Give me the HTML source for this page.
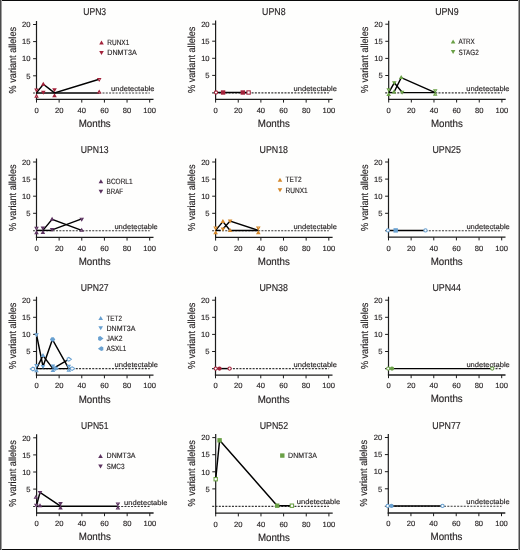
<!DOCTYPE html>
<html><head><meta charset="utf-8"><title>Figure</title>
<style>
html,body{margin:0;padding:0;background:#fefefd;}
body{width:520px;height:550px;overflow:hidden;position:relative;}
svg{display:block;position:absolute;left:0;top:0;will-change:transform;}
text{font-family:"Liberation Sans",sans-serif;text-rendering:geometricPrecision;stroke:#231f20;stroke-width:0.15px;}
</style></head><body>
<svg width="520" height="550" viewBox="0 0 520 550" font-family="Liberation Sans, sans-serif">
<defs><filter id="b" x="-2%" y="-2%" width="104%" height="104%" color-interpolation-filters="sRGB"><feGaussianBlur stdDeviation="0.35"/></filter></defs>
<rect x="0" y="0" width="520" height="550" fill="#fefefd"/>
<g filter="url(#b)">
<line x1="36.5" y1="21" x2="36.5" y2="100" stroke="#1c1c1c" stroke-width="1.2"/>
<line x1="35.9" y1="99.4" x2="153.5" y2="99.4" stroke="#1c1c1c" stroke-width="1.3"/>
<line x1="33.1" y1="75.8" x2="36.5" y2="75.8" stroke="#1c1c1c" stroke-width="1"/>
<text x="30.5" y="78.5" font-size="7.6" text-anchor="end" fill="#231f20">5</text>
<line x1="33.1" y1="58.7" x2="36.5" y2="58.7" stroke="#1c1c1c" stroke-width="1"/>
<text x="30.5" y="61.4" font-size="7.6" text-anchor="end" fill="#231f20">10</text>
<line x1="33.1" y1="41.6" x2="36.5" y2="41.6" stroke="#1c1c1c" stroke-width="1"/>
<text x="30.5" y="44.3" font-size="7.6" text-anchor="end" fill="#231f20">15</text>
<line x1="33.1" y1="24.5" x2="36.5" y2="24.5" stroke="#1c1c1c" stroke-width="1"/>
<text x="30.5" y="27.2" font-size="7.6" text-anchor="end" fill="#231f20">20</text>
<line x1="36.5" y1="99.4" x2="36.5" y2="102.6" stroke="#1c1c1c" stroke-width="1"/>
<text x="36.5" y="112.7" font-size="7.6" text-anchor="middle" fill="#231f20">0</text>
<line x1="59.14" y1="99.4" x2="59.14" y2="102.6" stroke="#1c1c1c" stroke-width="1"/>
<text x="59.14" y="112.7" font-size="7.6" text-anchor="middle" fill="#231f20">20</text>
<line x1="81.78" y1="99.4" x2="81.78" y2="102.6" stroke="#1c1c1c" stroke-width="1"/>
<text x="81.78" y="112.7" font-size="7.6" text-anchor="middle" fill="#231f20">40</text>
<line x1="104.42" y1="99.4" x2="104.42" y2="102.6" stroke="#1c1c1c" stroke-width="1"/>
<text x="104.42" y="112.7" font-size="7.6" text-anchor="middle" fill="#231f20">60</text>
<line x1="127.06" y1="99.4" x2="127.06" y2="102.6" stroke="#1c1c1c" stroke-width="1"/>
<text x="127.06" y="112.7" font-size="7.6" text-anchor="middle" fill="#231f20">80</text>
<line x1="149.7" y1="99.4" x2="149.7" y2="102.6" stroke="#1c1c1c" stroke-width="1"/>
<text x="149.7" y="112.7" font-size="7.6" text-anchor="middle" fill="#231f20">100</text>
<text x="94.7" y="15" font-size="10" text-anchor="middle" fill="#231f20" textLength="22.9" lengthAdjust="spacingAndGlyphs">UPN3</text>
<text x="94.7" y="126.8" font-size="10.4" text-anchor="middle" fill="#231f20" textLength="32" lengthAdjust="spacingAndGlyphs">Months</text>
<text x="15.7" y="60.2" font-size="10.2" text-anchor="middle" fill="#231f20" textLength="66.4" lengthAdjust="spacingAndGlyphs" transform="rotate(-90 15.7 60.2)">% variant alleles</text>
<text x="111.1" y="91.2" font-size="7" fill="#231f20" textLength="43.4" lengthAdjust="spacingAndGlyphs">undetectable</text>
<line x1="33" y1="93" x2="36.5" y2="93" stroke="#383838" stroke-width="1.15" stroke-dasharray="2 1.29"/>
<line x1="99.2" y1="93" x2="149.7" y2="93" stroke="#383838" stroke-width="1.15" stroke-dasharray="2 1.29"/>
<polyline points="36.5,92.9 43.3,84.2 54.5,92.9 99.2,79.2" fill="none" stroke="#000" stroke-width="1.45" stroke-linejoin="miter"/>
<polyline points="36.5,92.9 99.2,92.9" fill="none" stroke="#000" stroke-width="1.45" stroke-linejoin="miter"/>
<polygon points="35.09,88.99 37.91,88.99 36.5,91.41" fill="#fff" stroke="#a3223a" stroke-width="1.05"/>
<polygon points="35.09,97.31 37.91,97.31 36.5,94.89" fill="#fff" stroke="#a3223a" stroke-width="1.05"/>
<polygon points="41,85.7 45.6,85.7 43.3,81.7" fill="#a3223a"/>
<polygon points="41,90.7 45.6,90.7 43.3,94.7" fill="#a3223a"/>
<polygon points="52.2,88.2 56.8,88.2 54.5,92.2" fill="#a3223a"/>
<polygon points="52.2,97.2 56.8,97.2 54.5,93.2" fill="#a3223a"/>
<polygon points="97.79,78.49 100.61,78.49 99.2,80.91" fill="#fff" stroke="#a3223a" stroke-width="1.05"/>
<polygon points="97.79,93.01 100.61,93.01 99.2,90.59" fill="#fff" stroke="#a3223a" stroke-width="1.05"/>
<polygon points="99.2,44.5 103.8,44.5 101.5,40.5" fill="#a3223a"/>
<text x="107.3" y="44.95" font-size="7.7" fill="#231f20" textLength="22" lengthAdjust="spacingAndGlyphs">RUNX1</text>
<polygon points="99.2,51 103.8,51 101.5,55" fill="#a3223a"/>
<text x="107.3" y="55.45" font-size="7.7" fill="#231f20" textLength="29.4" lengthAdjust="spacingAndGlyphs">DNMT3A</text>
<line x1="215.6" y1="20.6" x2="215.6" y2="100" stroke="#1c1c1c" stroke-width="1.2"/>
<line x1="215" y1="99.4" x2="332.6" y2="99.4" stroke="#1c1c1c" stroke-width="1.3"/>
<line x1="212.2" y1="75.4" x2="215.6" y2="75.4" stroke="#1c1c1c" stroke-width="1"/>
<text x="209.6" y="78.1" font-size="7.6" text-anchor="end" fill="#231f20">5</text>
<line x1="212.2" y1="58.3" x2="215.6" y2="58.3" stroke="#1c1c1c" stroke-width="1"/>
<text x="209.6" y="61" font-size="7.6" text-anchor="end" fill="#231f20">10</text>
<line x1="212.2" y1="41.2" x2="215.6" y2="41.2" stroke="#1c1c1c" stroke-width="1"/>
<text x="209.6" y="43.9" font-size="7.6" text-anchor="end" fill="#231f20">15</text>
<line x1="212.2" y1="24.1" x2="215.6" y2="24.1" stroke="#1c1c1c" stroke-width="1"/>
<text x="209.6" y="26.8" font-size="7.6" text-anchor="end" fill="#231f20">20</text>
<line x1="215.6" y1="99.4" x2="215.6" y2="102.6" stroke="#1c1c1c" stroke-width="1"/>
<text x="215.6" y="112.7" font-size="7.6" text-anchor="middle" fill="#231f20">0</text>
<line x1="238.24" y1="99.4" x2="238.24" y2="102.6" stroke="#1c1c1c" stroke-width="1"/>
<text x="238.24" y="112.7" font-size="7.6" text-anchor="middle" fill="#231f20">20</text>
<line x1="260.88" y1="99.4" x2="260.88" y2="102.6" stroke="#1c1c1c" stroke-width="1"/>
<text x="260.88" y="112.7" font-size="7.6" text-anchor="middle" fill="#231f20">40</text>
<line x1="283.52" y1="99.4" x2="283.52" y2="102.6" stroke="#1c1c1c" stroke-width="1"/>
<text x="283.52" y="112.7" font-size="7.6" text-anchor="middle" fill="#231f20">60</text>
<line x1="306.16" y1="99.4" x2="306.16" y2="102.6" stroke="#1c1c1c" stroke-width="1"/>
<text x="306.16" y="112.7" font-size="7.6" text-anchor="middle" fill="#231f20">80</text>
<line x1="328.8" y1="99.4" x2="328.8" y2="102.6" stroke="#1c1c1c" stroke-width="1"/>
<text x="328.8" y="112.7" font-size="7.6" text-anchor="middle" fill="#231f20">100</text>
<text x="273.8" y="15" font-size="10" text-anchor="middle" fill="#231f20" textLength="23.5" lengthAdjust="spacingAndGlyphs">UPN8</text>
<text x="273.8" y="126.8" font-size="10.4" text-anchor="middle" fill="#231f20" textLength="32" lengthAdjust="spacingAndGlyphs">Months</text>
<text x="194.8" y="59.8" font-size="10.2" text-anchor="middle" fill="#231f20" textLength="66.4" lengthAdjust="spacingAndGlyphs" transform="rotate(-90 194.8 59.8)">% variant alleles</text>
<text x="293.5" y="90.8" font-size="7" fill="#231f20" textLength="43.4" lengthAdjust="spacingAndGlyphs">undetectable</text>
<line x1="212.1" y1="92.8" x2="328.8" y2="92.8" stroke="#383838" stroke-width="1.15" stroke-dasharray="2 1.29"/>
<polyline points="215.6,92.5 248.6,92.5" fill="none" stroke="#000" stroke-width="1.45" stroke-linejoin="miter"/>
<circle cx="216" cy="92.5" r="1.62" fill="#fff" stroke="#a3223a" stroke-width="1.05"/>
<rect x="220.9" y="90.3" width="4.4" height="4.4" fill="#a3223a"/>
<rect x="240.6" y="90.3" width="4.4" height="4.4" fill="#a3223a"/>
<rect x="246.92" y="90.83" width="3.35" height="3.35" fill="#fff" stroke="#a3223a" stroke-width="1.05"/>
<line x1="388.7" y1="20.7" x2="388.7" y2="99.9" stroke="#1c1c1c" stroke-width="1.2"/>
<line x1="388.1" y1="99.3" x2="505.7" y2="99.3" stroke="#1c1c1c" stroke-width="1.3"/>
<line x1="385.3" y1="75.5" x2="388.7" y2="75.5" stroke="#1c1c1c" stroke-width="1"/>
<text x="382.7" y="78.2" font-size="7.6" text-anchor="end" fill="#231f20">5</text>
<line x1="385.3" y1="58.4" x2="388.7" y2="58.4" stroke="#1c1c1c" stroke-width="1"/>
<text x="382.7" y="61.1" font-size="7.6" text-anchor="end" fill="#231f20">10</text>
<line x1="385.3" y1="41.3" x2="388.7" y2="41.3" stroke="#1c1c1c" stroke-width="1"/>
<text x="382.7" y="44" font-size="7.6" text-anchor="end" fill="#231f20">15</text>
<line x1="385.3" y1="24.2" x2="388.7" y2="24.2" stroke="#1c1c1c" stroke-width="1"/>
<text x="382.7" y="26.9" font-size="7.6" text-anchor="end" fill="#231f20">20</text>
<line x1="388.7" y1="99.3" x2="388.7" y2="102.5" stroke="#1c1c1c" stroke-width="1"/>
<text x="388.7" y="112.6" font-size="7.6" text-anchor="middle" fill="#231f20">0</text>
<line x1="411.34" y1="99.3" x2="411.34" y2="102.5" stroke="#1c1c1c" stroke-width="1"/>
<text x="411.34" y="112.6" font-size="7.6" text-anchor="middle" fill="#231f20">20</text>
<line x1="433.98" y1="99.3" x2="433.98" y2="102.5" stroke="#1c1c1c" stroke-width="1"/>
<text x="433.98" y="112.6" font-size="7.6" text-anchor="middle" fill="#231f20">40</text>
<line x1="456.62" y1="99.3" x2="456.62" y2="102.5" stroke="#1c1c1c" stroke-width="1"/>
<text x="456.62" y="112.6" font-size="7.6" text-anchor="middle" fill="#231f20">60</text>
<line x1="479.26" y1="99.3" x2="479.26" y2="102.5" stroke="#1c1c1c" stroke-width="1"/>
<text x="479.26" y="112.6" font-size="7.6" text-anchor="middle" fill="#231f20">80</text>
<line x1="501.9" y1="99.3" x2="501.9" y2="102.5" stroke="#1c1c1c" stroke-width="1"/>
<text x="501.9" y="112.6" font-size="7.6" text-anchor="middle" fill="#231f20">100</text>
<text x="446.9" y="15" font-size="10" text-anchor="middle" fill="#231f20" textLength="23.5" lengthAdjust="spacingAndGlyphs">UPN9</text>
<text x="446.9" y="126.7" font-size="10.4" text-anchor="middle" fill="#231f20" textLength="32" lengthAdjust="spacingAndGlyphs">Months</text>
<text x="367.9" y="59.9" font-size="10.2" text-anchor="middle" fill="#231f20" textLength="66.4" lengthAdjust="spacingAndGlyphs" transform="rotate(-90 367.9 59.9)">% variant alleles</text>
<text x="466.2" y="90.9" font-size="7" fill="#231f20" textLength="43.4" lengthAdjust="spacingAndGlyphs">undetectable</text>
<line x1="385.2" y1="92.9" x2="388.7" y2="92.9" stroke="#383838" stroke-width="1.15" stroke-dasharray="2 1.29"/>
<line x1="394" y1="92.9" x2="402.1" y2="92.9" stroke="#383838" stroke-width="1.15" stroke-dasharray="2 1.29"/>
<line x1="435.2" y1="92.9" x2="501.9" y2="92.9" stroke="#383838" stroke-width="1.15" stroke-dasharray="2 1.29"/>
<polyline points="388.7,92.6 394.3,82.8 402.1,92.3" fill="none" stroke="#000" stroke-width="1.45" stroke-linejoin="miter"/>
<polyline points="394,92.3 401.2,77.6 435.2,92.6" fill="none" stroke="#000" stroke-width="1.45" stroke-linejoin="miter"/>
<polyline points="388.7,92.6 394,92.6" fill="none" stroke="#000" stroke-width="1.45" stroke-linejoin="miter"/>
<polyline points="402.1,92.6 435.2,92.6" fill="none" stroke="#000" stroke-width="1.45" stroke-linejoin="miter"/>
<polygon points="387.29,88.89 390.11,88.89 388.7,91.31" fill="#fff" stroke="#6aa046" stroke-width="1.05"/>
<polygon points="387.29,95.51 390.11,95.51 388.7,93.09" fill="#fff" stroke="#6aa046" stroke-width="1.05"/>
<polygon points="392,81.3 396.6,81.3 394.3,85.3" fill="#6aa046"/>
<polygon points="391.7,93.5 396.3,93.5 394,89.5" fill="#6aa046"/>
<polygon points="398.9,79.1 403.5,79.1 401.2,75.1" fill="#6aa046"/>
<polygon points="399.8,90.8 404.4,90.8 402.1,94.8" fill="#6aa046"/>
<polygon points="433.79,89.69 436.61,89.69 435.2,92.11" fill="#fff" stroke="#6aa046" stroke-width="1.05"/>
<polygon points="433.79,95.31 436.61,95.31 435.2,92.89" fill="#fff" stroke="#6aa046" stroke-width="1.05"/>
<polygon points="450.8,43.55 455.4,43.55 453.1,39.55" fill="#6aa046"/>
<text x="458.5" y="44" font-size="7.7" fill="#231f20" textLength="16.3" lengthAdjust="spacingAndGlyphs">ATRX</text>
<polygon points="450.8,50.05 455.4,50.05 453.1,54.05" fill="#6aa046"/>
<text x="458.5" y="54.5" font-size="7.7" fill="#231f20" textLength="20.3" lengthAdjust="spacingAndGlyphs">STAG2</text>
<line x1="36.5" y1="158.5" x2="36.5" y2="238" stroke="#1c1c1c" stroke-width="1.2"/>
<line x1="35.9" y1="237.4" x2="153.5" y2="237.4" stroke="#1c1c1c" stroke-width="1.3"/>
<line x1="33.1" y1="213.3" x2="36.5" y2="213.3" stroke="#1c1c1c" stroke-width="1"/>
<text x="30.5" y="216" font-size="7.6" text-anchor="end" fill="#231f20">5</text>
<line x1="33.1" y1="196.2" x2="36.5" y2="196.2" stroke="#1c1c1c" stroke-width="1"/>
<text x="30.5" y="198.9" font-size="7.6" text-anchor="end" fill="#231f20">10</text>
<line x1="33.1" y1="179.1" x2="36.5" y2="179.1" stroke="#1c1c1c" stroke-width="1"/>
<text x="30.5" y="181.8" font-size="7.6" text-anchor="end" fill="#231f20">15</text>
<line x1="33.1" y1="162" x2="36.5" y2="162" stroke="#1c1c1c" stroke-width="1"/>
<text x="30.5" y="164.7" font-size="7.6" text-anchor="end" fill="#231f20">20</text>
<line x1="36.5" y1="237.4" x2="36.5" y2="240.6" stroke="#1c1c1c" stroke-width="1"/>
<text x="36.5" y="250.7" font-size="7.6" text-anchor="middle" fill="#231f20">0</text>
<line x1="59.14" y1="237.4" x2="59.14" y2="240.6" stroke="#1c1c1c" stroke-width="1"/>
<text x="59.14" y="250.7" font-size="7.6" text-anchor="middle" fill="#231f20">20</text>
<line x1="81.78" y1="237.4" x2="81.78" y2="240.6" stroke="#1c1c1c" stroke-width="1"/>
<text x="81.78" y="250.7" font-size="7.6" text-anchor="middle" fill="#231f20">40</text>
<line x1="104.42" y1="237.4" x2="104.42" y2="240.6" stroke="#1c1c1c" stroke-width="1"/>
<text x="104.42" y="250.7" font-size="7.6" text-anchor="middle" fill="#231f20">60</text>
<line x1="127.06" y1="237.4" x2="127.06" y2="240.6" stroke="#1c1c1c" stroke-width="1"/>
<text x="127.06" y="250.7" font-size="7.6" text-anchor="middle" fill="#231f20">80</text>
<line x1="149.7" y1="237.4" x2="149.7" y2="240.6" stroke="#1c1c1c" stroke-width="1"/>
<text x="149.7" y="250.7" font-size="7.6" text-anchor="middle" fill="#231f20">100</text>
<text x="94.7" y="152.9" font-size="10" text-anchor="middle" fill="#231f20" textLength="27.9" lengthAdjust="spacingAndGlyphs">UPN13</text>
<text x="94.7" y="264.8" font-size="10.4" text-anchor="middle" fill="#231f20" textLength="32" lengthAdjust="spacingAndGlyphs">Months</text>
<text x="15.7" y="197.7" font-size="10.2" text-anchor="middle" fill="#231f20" textLength="66.4" lengthAdjust="spacingAndGlyphs" transform="rotate(-90 15.7 197.7)">% variant alleles</text>
<text x="114.4" y="228.7" font-size="7" fill="#231f20" textLength="43.4" lengthAdjust="spacingAndGlyphs">undetectable</text>
<line x1="33" y1="230.7" x2="149.7" y2="230.7" stroke="#383838" stroke-width="1.15" stroke-dasharray="2 1.29"/>
<polyline points="36.5,230.4 52.1,230.4" fill="none" stroke="#000" stroke-width="1.45" stroke-linejoin="miter"/>
<polyline points="42.9,230.4 52.1,219.3 81.7,230.4" fill="none" stroke="#000" stroke-width="1.45" stroke-linejoin="miter"/>
<polyline points="52.1,229.9 81.7,218.9" fill="none" stroke="#000" stroke-width="1.45" stroke-linejoin="miter"/>
<polygon points="35.09,227.29 37.91,227.29 36.5,229.71" fill="#fff" stroke="#5c3360" stroke-width="1.05"/>
<polygon points="35.09,233.61 37.91,233.61 36.5,231.19" fill="#fff" stroke="#5c3360" stroke-width="1.05"/>
<polygon points="40.6,226.6 45.2,226.6 42.9,230.6" fill="#5c3360"/>
<polygon points="40.6,233.9 45.2,233.9 42.9,229.9" fill="#5c3360"/>
<polygon points="49.8,220.8 54.4,220.8 52.1,216.8" fill="#5c3360"/>
<polygon points="49.8,227.9 54.4,227.9 52.1,231.9" fill="#5c3360"/>
<polygon points="80.29,218.19 83.11,218.19 81.7,220.61" fill="#fff" stroke="#5c3360" stroke-width="1.05"/>
<polygon points="80.29,231.11 83.11,231.11 81.7,228.69" fill="#fff" stroke="#5c3360" stroke-width="1.05"/>
<polygon points="98.6,183.25 103.2,183.25 100.9,179.25" fill="#5c3360"/>
<text x="106.6" y="183.7" font-size="7.7" fill="#231f20" textLength="26" lengthAdjust="spacingAndGlyphs">BCORL1</text>
<polygon points="98.6,189.75 103.2,189.75 100.9,193.75" fill="#5c3360"/>
<text x="106.6" y="194.2" font-size="7.7" fill="#231f20" textLength="16.4" lengthAdjust="spacingAndGlyphs">BRAF</text>
<line x1="215.6" y1="158.5" x2="215.6" y2="238" stroke="#1c1c1c" stroke-width="1.2"/>
<line x1="215" y1="237.4" x2="332.6" y2="237.4" stroke="#1c1c1c" stroke-width="1.3"/>
<line x1="212.2" y1="213.3" x2="215.6" y2="213.3" stroke="#1c1c1c" stroke-width="1"/>
<text x="209.6" y="216" font-size="7.6" text-anchor="end" fill="#231f20">5</text>
<line x1="212.2" y1="196.2" x2="215.6" y2="196.2" stroke="#1c1c1c" stroke-width="1"/>
<text x="209.6" y="198.9" font-size="7.6" text-anchor="end" fill="#231f20">10</text>
<line x1="212.2" y1="179.1" x2="215.6" y2="179.1" stroke="#1c1c1c" stroke-width="1"/>
<text x="209.6" y="181.8" font-size="7.6" text-anchor="end" fill="#231f20">15</text>
<line x1="212.2" y1="162" x2="215.6" y2="162" stroke="#1c1c1c" stroke-width="1"/>
<text x="209.6" y="164.7" font-size="7.6" text-anchor="end" fill="#231f20">20</text>
<line x1="215.6" y1="237.4" x2="215.6" y2="240.6" stroke="#1c1c1c" stroke-width="1"/>
<text x="215.6" y="250.7" font-size="7.6" text-anchor="middle" fill="#231f20">0</text>
<line x1="238.24" y1="237.4" x2="238.24" y2="240.6" stroke="#1c1c1c" stroke-width="1"/>
<text x="238.24" y="250.7" font-size="7.6" text-anchor="middle" fill="#231f20">20</text>
<line x1="260.88" y1="237.4" x2="260.88" y2="240.6" stroke="#1c1c1c" stroke-width="1"/>
<text x="260.88" y="250.7" font-size="7.6" text-anchor="middle" fill="#231f20">40</text>
<line x1="283.52" y1="237.4" x2="283.52" y2="240.6" stroke="#1c1c1c" stroke-width="1"/>
<text x="283.52" y="250.7" font-size="7.6" text-anchor="middle" fill="#231f20">60</text>
<line x1="306.16" y1="237.4" x2="306.16" y2="240.6" stroke="#1c1c1c" stroke-width="1"/>
<text x="306.16" y="250.7" font-size="7.6" text-anchor="middle" fill="#231f20">80</text>
<line x1="328.8" y1="237.4" x2="328.8" y2="240.6" stroke="#1c1c1c" stroke-width="1"/>
<text x="328.8" y="250.7" font-size="7.6" text-anchor="middle" fill="#231f20">100</text>
<text x="273.8" y="152.9" font-size="10" text-anchor="middle" fill="#231f20" textLength="28.5" lengthAdjust="spacingAndGlyphs">UPN18</text>
<text x="273.8" y="264.8" font-size="10.4" text-anchor="middle" fill="#231f20" textLength="32" lengthAdjust="spacingAndGlyphs">Months</text>
<text x="194.8" y="197.7" font-size="10.2" text-anchor="middle" fill="#231f20" textLength="66.4" lengthAdjust="spacingAndGlyphs" transform="rotate(-90 194.8 197.7)">% variant alleles</text>
<text x="293.5" y="228.7" font-size="7" fill="#231f20" textLength="43.4" lengthAdjust="spacingAndGlyphs">undetectable</text>
<line x1="212.1" y1="230.7" x2="328.8" y2="230.7" stroke="#383838" stroke-width="1.15" stroke-dasharray="2 1.29"/>
<polyline points="215.6,230.4 222.9,221.6 230.1,230.4 258.3,230.4" fill="none" stroke="#000" stroke-width="1.45" stroke-linejoin="miter"/>
<polyline points="222.9,229.1 230.1,221 258.3,230.4" fill="none" stroke="#000" stroke-width="1.45" stroke-linejoin="miter"/>
<polyline points="215.6,230.4 220.6,230.4" fill="none" stroke="#000" stroke-width="1.45" stroke-linejoin="miter"/>
<polygon points="214.19,226.99 217.01,226.99 215.6,229.41" fill="#fff" stroke="#d4872a" stroke-width="1.05"/>
<polygon points="214.19,233.61 217.01,233.61 215.6,231.19" fill="#fff" stroke="#d4872a" stroke-width="1.05"/>
<polygon points="220.6,223.1 225.2,223.1 222.9,219.1" fill="#d4872a"/>
<polygon points="220.6,227.6 225.2,227.6 222.9,231.6" fill="#d4872a"/>
<polygon points="227.8,219.5 232.4,219.5 230.1,223.5" fill="#d4872a"/>
<polygon points="227.8,231.9 232.4,231.9 230.1,227.9" fill="#d4872a"/>
<polygon points="256.89,226.99 259.71,226.99 258.3,229.41" fill="#fff" stroke="#d4872a" stroke-width="1.05"/>
<polygon points="256.89,233.61 259.71,233.61 258.3,231.19" fill="#fff" stroke="#d4872a" stroke-width="1.05"/>
<polygon points="277.7,181.85 282.3,181.85 280,177.85" fill="#d4872a"/>
<text x="285.6" y="182.3" font-size="7.7" fill="#231f20" textLength="15.9" lengthAdjust="spacingAndGlyphs">TET2</text>
<polygon points="277.7,188.35 282.3,188.35 280,192.35" fill="#d4872a"/>
<text x="285.6" y="192.8" font-size="7.7" fill="#231f20" textLength="22.1" lengthAdjust="spacingAndGlyphs">RUNX1</text>
<line x1="388.5" y1="158.5" x2="388.5" y2="237.8" stroke="#1c1c1c" stroke-width="1.2"/>
<line x1="387.9" y1="237.2" x2="505.5" y2="237.2" stroke="#1c1c1c" stroke-width="1.3"/>
<line x1="385.1" y1="213.3" x2="388.5" y2="213.3" stroke="#1c1c1c" stroke-width="1"/>
<text x="382.5" y="216" font-size="7.6" text-anchor="end" fill="#231f20">5</text>
<line x1="385.1" y1="196.2" x2="388.5" y2="196.2" stroke="#1c1c1c" stroke-width="1"/>
<text x="382.5" y="198.9" font-size="7.6" text-anchor="end" fill="#231f20">10</text>
<line x1="385.1" y1="179.1" x2="388.5" y2="179.1" stroke="#1c1c1c" stroke-width="1"/>
<text x="382.5" y="181.8" font-size="7.6" text-anchor="end" fill="#231f20">15</text>
<line x1="385.1" y1="162" x2="388.5" y2="162" stroke="#1c1c1c" stroke-width="1"/>
<text x="382.5" y="164.7" font-size="7.6" text-anchor="end" fill="#231f20">20</text>
<line x1="388.5" y1="237.2" x2="388.5" y2="240.4" stroke="#1c1c1c" stroke-width="1"/>
<text x="388.5" y="250.5" font-size="7.6" text-anchor="middle" fill="#231f20">0</text>
<line x1="411.14" y1="237.2" x2="411.14" y2="240.4" stroke="#1c1c1c" stroke-width="1"/>
<text x="411.14" y="250.5" font-size="7.6" text-anchor="middle" fill="#231f20">20</text>
<line x1="433.78" y1="237.2" x2="433.78" y2="240.4" stroke="#1c1c1c" stroke-width="1"/>
<text x="433.78" y="250.5" font-size="7.6" text-anchor="middle" fill="#231f20">40</text>
<line x1="456.42" y1="237.2" x2="456.42" y2="240.4" stroke="#1c1c1c" stroke-width="1"/>
<text x="456.42" y="250.5" font-size="7.6" text-anchor="middle" fill="#231f20">60</text>
<line x1="479.06" y1="237.2" x2="479.06" y2="240.4" stroke="#1c1c1c" stroke-width="1"/>
<text x="479.06" y="250.5" font-size="7.6" text-anchor="middle" fill="#231f20">80</text>
<line x1="501.7" y1="237.2" x2="501.7" y2="240.4" stroke="#1c1c1c" stroke-width="1"/>
<text x="501.7" y="250.5" font-size="7.6" text-anchor="middle" fill="#231f20">100</text>
<text x="446.7" y="152.9" font-size="10" text-anchor="middle" fill="#231f20" textLength="28.5" lengthAdjust="spacingAndGlyphs">UPN25</text>
<text x="446.7" y="264.6" font-size="10.4" text-anchor="middle" fill="#231f20" textLength="32" lengthAdjust="spacingAndGlyphs">Months</text>
<text x="367.7" y="197.7" font-size="10.2" text-anchor="middle" fill="#231f20" textLength="66.4" lengthAdjust="spacingAndGlyphs" transform="rotate(-90 367.7 197.7)">% variant alleles</text>
<text x="466.4" y="228.7" font-size="7" fill="#231f20" textLength="43.4" lengthAdjust="spacingAndGlyphs">undetectable</text>
<line x1="385" y1="230.7" x2="388.5" y2="230.7" stroke="#383838" stroke-width="1.15" stroke-dasharray="2 1.29"/>
<line x1="425.5" y1="230.7" x2="501.7" y2="230.7" stroke="#383838" stroke-width="1.15" stroke-dasharray="2 1.29"/>
<polyline points="388.5,230.4 425.5,230.4" fill="none" stroke="#000" stroke-width="1.45" stroke-linejoin="miter"/>
<circle cx="387.9" cy="230.4" r="1.62" fill="#fff" stroke="#68a0d0" stroke-width="1.05"/>
<rect x="393.5" y="228.2" width="4.4" height="4.4" fill="#68a0d0"/>
<circle cx="425.5" cy="230.4" r="1.62" fill="#fff" stroke="#68a0d0" stroke-width="1.05"/>
<line x1="36.5" y1="296.7" x2="36.5" y2="375.7" stroke="#1c1c1c" stroke-width="1.2"/>
<line x1="35.9" y1="375.1" x2="153.5" y2="375.1" stroke="#1c1c1c" stroke-width="1.3"/>
<line x1="33.1" y1="351.5" x2="36.5" y2="351.5" stroke="#1c1c1c" stroke-width="1"/>
<text x="30.5" y="354.2" font-size="7.6" text-anchor="end" fill="#231f20">5</text>
<line x1="33.1" y1="334.4" x2="36.5" y2="334.4" stroke="#1c1c1c" stroke-width="1"/>
<text x="30.5" y="337.1" font-size="7.6" text-anchor="end" fill="#231f20">10</text>
<line x1="33.1" y1="317.3" x2="36.5" y2="317.3" stroke="#1c1c1c" stroke-width="1"/>
<text x="30.5" y="320" font-size="7.6" text-anchor="end" fill="#231f20">15</text>
<line x1="33.1" y1="300.2" x2="36.5" y2="300.2" stroke="#1c1c1c" stroke-width="1"/>
<text x="30.5" y="302.9" font-size="7.6" text-anchor="end" fill="#231f20">20</text>
<line x1="36.5" y1="375.1" x2="36.5" y2="378.3" stroke="#1c1c1c" stroke-width="1"/>
<text x="36.5" y="388.4" font-size="7.6" text-anchor="middle" fill="#231f20">0</text>
<line x1="59.14" y1="375.1" x2="59.14" y2="378.3" stroke="#1c1c1c" stroke-width="1"/>
<text x="59.14" y="388.4" font-size="7.6" text-anchor="middle" fill="#231f20">20</text>
<line x1="81.78" y1="375.1" x2="81.78" y2="378.3" stroke="#1c1c1c" stroke-width="1"/>
<text x="81.78" y="388.4" font-size="7.6" text-anchor="middle" fill="#231f20">40</text>
<line x1="104.42" y1="375.1" x2="104.42" y2="378.3" stroke="#1c1c1c" stroke-width="1"/>
<text x="104.42" y="388.4" font-size="7.6" text-anchor="middle" fill="#231f20">60</text>
<line x1="127.06" y1="375.1" x2="127.06" y2="378.3" stroke="#1c1c1c" stroke-width="1"/>
<text x="127.06" y="388.4" font-size="7.6" text-anchor="middle" fill="#231f20">80</text>
<line x1="149.7" y1="375.1" x2="149.7" y2="378.3" stroke="#1c1c1c" stroke-width="1"/>
<text x="149.7" y="388.4" font-size="7.6" text-anchor="middle" fill="#231f20">100</text>
<text x="94.7" y="290.9" font-size="10" text-anchor="middle" fill="#231f20" textLength="27.9" lengthAdjust="spacingAndGlyphs">UPN27</text>
<text x="94.7" y="402.5" font-size="10.4" text-anchor="middle" fill="#231f20" textLength="32" lengthAdjust="spacingAndGlyphs">Months</text>
<text x="15.7" y="335.9" font-size="10.2" text-anchor="middle" fill="#231f20" textLength="66.4" lengthAdjust="spacingAndGlyphs" transform="rotate(-90 15.7 335.9)">% variant alleles</text>
<text x="114.6" y="366.9" font-size="7" fill="#231f20" textLength="43.4" lengthAdjust="spacingAndGlyphs">undetectable</text>
<line x1="33" y1="368.6" x2="149.7" y2="368.6" stroke="#383838" stroke-width="1.15" stroke-dasharray="2 1.29"/>
<polyline points="36.5,334.6 43,366.5 52.4,339.5 68.8,368.6" fill="none" stroke="#000" stroke-width="1.45" stroke-linejoin="miter"/>
<polyline points="36.5,368.6 43,355.5 52.9,368.6" fill="none" stroke="#000" stroke-width="1.45" stroke-linejoin="miter"/>
<polyline points="52.9,368.6 69.1,359.2" fill="none" stroke="#000" stroke-width="1.45" stroke-linejoin="miter"/>
<polyline points="36.5,368.6 68.8,368.6" fill="none" stroke="#000" stroke-width="1.45" stroke-linejoin="miter"/>
<polygon points="35.09,333.89 37.91,333.89 36.5,336.31" fill="#fff" stroke="#68a0d0" stroke-width="1.05"/>
<polygon points="35.09,364.59 37.91,364.59 36.5,367.01" fill="#fff" stroke="#68a0d0" stroke-width="1.05"/>
<polygon points="35.09,371.71 37.91,371.71 36.5,369.29" fill="#fff" stroke="#68a0d0" stroke-width="1.05"/>
<polygon points="34.39,367.85 32.78,367.17 30.26,369 32.78,370.83 34.39,370.15" fill="#fff" stroke="#68a0d0" stroke-width="1.05"/>
<polygon points="40.7,357 45.3,357 43,353" fill="#68a0d0"/>
<polygon points="40.7,365 45.3,365 43,369" fill="#68a0d0"/>
<polygon points="49.9,339.4 51.5,337.2 53.7,337.2 55.3,339.4 53.7,341.6 51.5,341.6" fill="#68a0d0"/>
<polygon points="50.6,364.6 55.2,364.6 52.9,368.6" fill="#68a0d0"/>
<polygon points="50.6,372 55.2,372 52.9,368" fill="#68a0d0"/>
<polygon points="53.5,366.9 55.6,366 58.9,368.4 55.6,370.8 53.5,369.9" fill="#68a0d0"/>
<polygon points="67.21,358.15 68.82,357.47 71.34,359.3 68.82,361.13 67.21,360.45" fill="#fff" stroke="#68a0d0" stroke-width="1.05"/>
<polygon points="67.39,365.39 70.21,365.39 68.8,367.81" fill="#fff" stroke="#68a0d0" stroke-width="1.05"/>
<polygon points="67.39,371.31 70.21,371.31 68.8,368.89" fill="#fff" stroke="#68a0d0" stroke-width="1.05"/>
<polygon points="70.61,367.45 72.22,366.77 74.74,368.6 72.22,370.43 70.61,369.75" fill="#fff" stroke="#68a0d0" stroke-width="1.05"/>
<polygon points="98.4,320.1 103,320.1 100.7,316.1" fill="#68a0d0"/>
<text x="106.5" y="320.55" font-size="7.7" fill="#231f20" textLength="15.4" lengthAdjust="spacingAndGlyphs">TET2</text>
<polygon points="98.4,326.3 103,326.3 100.7,330.3" fill="#68a0d0"/>
<text x="106.5" y="330.75" font-size="7.7" fill="#231f20" textLength="29" lengthAdjust="spacingAndGlyphs">DNMT3A</text>
<polygon points="98.1,337 100.2,336.1 103.5,338.5 100.2,340.9 98.1,340" fill="#68a0d0"/>
<text x="106.5" y="340.95" font-size="7.7" fill="#231f20" textLength="16" lengthAdjust="spacingAndGlyphs">JAK2</text>
<polygon points="103.3,347.2 101.2,346.3 97.9,348.7 101.2,351.1 103.3,350.2" fill="#68a0d0"/>
<text x="106.5" y="351.15" font-size="7.7" fill="#231f20" textLength="19.8" lengthAdjust="spacingAndGlyphs">ASXL1</text>
<line x1="215.5" y1="296.7" x2="215.5" y2="375.7" stroke="#1c1c1c" stroke-width="1.2"/>
<line x1="214.9" y1="375.1" x2="332.5" y2="375.1" stroke="#1c1c1c" stroke-width="1.3"/>
<line x1="212.1" y1="351.5" x2="215.5" y2="351.5" stroke="#1c1c1c" stroke-width="1"/>
<text x="209.5" y="354.2" font-size="7.6" text-anchor="end" fill="#231f20">5</text>
<line x1="212.1" y1="334.4" x2="215.5" y2="334.4" stroke="#1c1c1c" stroke-width="1"/>
<text x="209.5" y="337.1" font-size="7.6" text-anchor="end" fill="#231f20">10</text>
<line x1="212.1" y1="317.3" x2="215.5" y2="317.3" stroke="#1c1c1c" stroke-width="1"/>
<text x="209.5" y="320" font-size="7.6" text-anchor="end" fill="#231f20">15</text>
<line x1="212.1" y1="300.2" x2="215.5" y2="300.2" stroke="#1c1c1c" stroke-width="1"/>
<text x="209.5" y="302.9" font-size="7.6" text-anchor="end" fill="#231f20">20</text>
<line x1="215.5" y1="375.1" x2="215.5" y2="378.3" stroke="#1c1c1c" stroke-width="1"/>
<text x="215.5" y="388.4" font-size="7.6" text-anchor="middle" fill="#231f20">0</text>
<line x1="238.14" y1="375.1" x2="238.14" y2="378.3" stroke="#1c1c1c" stroke-width="1"/>
<text x="238.14" y="388.4" font-size="7.6" text-anchor="middle" fill="#231f20">20</text>
<line x1="260.78" y1="375.1" x2="260.78" y2="378.3" stroke="#1c1c1c" stroke-width="1"/>
<text x="260.78" y="388.4" font-size="7.6" text-anchor="middle" fill="#231f20">40</text>
<line x1="283.42" y1="375.1" x2="283.42" y2="378.3" stroke="#1c1c1c" stroke-width="1"/>
<text x="283.42" y="388.4" font-size="7.6" text-anchor="middle" fill="#231f20">60</text>
<line x1="306.06" y1="375.1" x2="306.06" y2="378.3" stroke="#1c1c1c" stroke-width="1"/>
<text x="306.06" y="388.4" font-size="7.6" text-anchor="middle" fill="#231f20">80</text>
<line x1="328.7" y1="375.1" x2="328.7" y2="378.3" stroke="#1c1c1c" stroke-width="1"/>
<text x="328.7" y="388.4" font-size="7.6" text-anchor="middle" fill="#231f20">100</text>
<text x="273.7" y="290.9" font-size="10" text-anchor="middle" fill="#231f20" textLength="28.5" lengthAdjust="spacingAndGlyphs">UPN38</text>
<text x="273.7" y="402.5" font-size="10.4" text-anchor="middle" fill="#231f20" textLength="32" lengthAdjust="spacingAndGlyphs">Months</text>
<text x="194.7" y="335.9" font-size="10.2" text-anchor="middle" fill="#231f20" textLength="66.4" lengthAdjust="spacingAndGlyphs" transform="rotate(-90 194.7 335.9)">% variant alleles</text>
<text x="293.6" y="366.9" font-size="7" fill="#231f20" textLength="43.4" lengthAdjust="spacingAndGlyphs">undetectable</text>
<line x1="212" y1="368.6" x2="215.5" y2="368.6" stroke="#383838" stroke-width="1.15" stroke-dasharray="2 1.29"/>
<line x1="229.6" y1="368.6" x2="328.7" y2="368.6" stroke="#383838" stroke-width="1.15" stroke-dasharray="2 1.29"/>
<polyline points="215.5,368.6 229.6,368.6" fill="none" stroke="#000" stroke-width="1.45" stroke-linejoin="miter"/>
<circle cx="215.7" cy="368.6" r="1.62" fill="#fff" stroke="#a3223a" stroke-width="1.05"/>
<circle cx="219.5" cy="368.6" r="2.15" fill="#a3223a"/>
<circle cx="229.6" cy="368.6" r="1.62" fill="#fff" stroke="#a3223a" stroke-width="1.05"/>
<line x1="388.5" y1="296.7" x2="388.5" y2="375.6" stroke="#1c1c1c" stroke-width="1.2"/>
<line x1="387.9" y1="375" x2="505.5" y2="375" stroke="#1c1c1c" stroke-width="1.3"/>
<line x1="385.1" y1="351.5" x2="388.5" y2="351.5" stroke="#1c1c1c" stroke-width="1"/>
<text x="382.5" y="354.2" font-size="7.6" text-anchor="end" fill="#231f20">5</text>
<line x1="385.1" y1="334.4" x2="388.5" y2="334.4" stroke="#1c1c1c" stroke-width="1"/>
<text x="382.5" y="337.1" font-size="7.6" text-anchor="end" fill="#231f20">10</text>
<line x1="385.1" y1="317.3" x2="388.5" y2="317.3" stroke="#1c1c1c" stroke-width="1"/>
<text x="382.5" y="320" font-size="7.6" text-anchor="end" fill="#231f20">15</text>
<line x1="385.1" y1="300.2" x2="388.5" y2="300.2" stroke="#1c1c1c" stroke-width="1"/>
<text x="382.5" y="302.9" font-size="7.6" text-anchor="end" fill="#231f20">20</text>
<line x1="388.5" y1="375" x2="388.5" y2="378.2" stroke="#1c1c1c" stroke-width="1"/>
<text x="388.5" y="388.3" font-size="7.6" text-anchor="middle" fill="#231f20">0</text>
<line x1="411.14" y1="375" x2="411.14" y2="378.2" stroke="#1c1c1c" stroke-width="1"/>
<text x="411.14" y="388.3" font-size="7.6" text-anchor="middle" fill="#231f20">20</text>
<line x1="433.78" y1="375" x2="433.78" y2="378.2" stroke="#1c1c1c" stroke-width="1"/>
<text x="433.78" y="388.3" font-size="7.6" text-anchor="middle" fill="#231f20">40</text>
<line x1="456.42" y1="375" x2="456.42" y2="378.2" stroke="#1c1c1c" stroke-width="1"/>
<text x="456.42" y="388.3" font-size="7.6" text-anchor="middle" fill="#231f20">60</text>
<line x1="479.06" y1="375" x2="479.06" y2="378.2" stroke="#1c1c1c" stroke-width="1"/>
<text x="479.06" y="388.3" font-size="7.6" text-anchor="middle" fill="#231f20">80</text>
<line x1="501.7" y1="375" x2="501.7" y2="378.2" stroke="#1c1c1c" stroke-width="1"/>
<text x="501.7" y="388.3" font-size="7.6" text-anchor="middle" fill="#231f20">100</text>
<text x="446.7" y="290.9" font-size="10" text-anchor="middle" fill="#231f20" textLength="28.5" lengthAdjust="spacingAndGlyphs">UPN44</text>
<text x="446.7" y="402.4" font-size="10.4" text-anchor="middle" fill="#231f20" textLength="32" lengthAdjust="spacingAndGlyphs">Months</text>
<text x="367.7" y="335.9" font-size="10.2" text-anchor="middle" fill="#231f20" textLength="66.4" lengthAdjust="spacingAndGlyphs" transform="rotate(-90 367.7 335.9)">% variant alleles</text>
<text x="466.4" y="366.9" font-size="7" fill="#231f20" textLength="43.4" lengthAdjust="spacingAndGlyphs">undetectable</text>
<line x1="385" y1="368.6" x2="388.5" y2="368.6" stroke="#383838" stroke-width="1.15" stroke-dasharray="2 1.29"/>
<line x1="492.2" y1="368.6" x2="501.7" y2="368.6" stroke="#383838" stroke-width="1.15" stroke-dasharray="2 1.29"/>
<polyline points="388.5,368.6 492.2,368.6" fill="none" stroke="#000" stroke-width="1.45" stroke-linejoin="miter"/>
<circle cx="388.2" cy="368.6" r="1.62" fill="#fff" stroke="#6aa046" stroke-width="1.05"/>
<circle cx="392" cy="368.6" r="2.15" fill="#6aa046"/>
<circle cx="492.2" cy="368.6" r="1.62" fill="#fff" stroke="#6aa046" stroke-width="1.05"/>
<line x1="36.6" y1="434.3" x2="36.6" y2="513.6" stroke="#1c1c1c" stroke-width="1.2"/>
<line x1="36" y1="513" x2="153.6" y2="513" stroke="#1c1c1c" stroke-width="1.3"/>
<line x1="33.2" y1="489.1" x2="36.6" y2="489.1" stroke="#1c1c1c" stroke-width="1"/>
<text x="30.6" y="491.8" font-size="7.6" text-anchor="end" fill="#231f20">5</text>
<line x1="33.2" y1="472" x2="36.6" y2="472" stroke="#1c1c1c" stroke-width="1"/>
<text x="30.6" y="474.7" font-size="7.6" text-anchor="end" fill="#231f20">10</text>
<line x1="33.2" y1="454.9" x2="36.6" y2="454.9" stroke="#1c1c1c" stroke-width="1"/>
<text x="30.6" y="457.6" font-size="7.6" text-anchor="end" fill="#231f20">15</text>
<line x1="33.2" y1="437.8" x2="36.6" y2="437.8" stroke="#1c1c1c" stroke-width="1"/>
<text x="30.6" y="440.5" font-size="7.6" text-anchor="end" fill="#231f20">20</text>
<line x1="36.6" y1="513" x2="36.6" y2="516.2" stroke="#1c1c1c" stroke-width="1"/>
<text x="36.6" y="526.3" font-size="7.6" text-anchor="middle" fill="#231f20">0</text>
<line x1="59.24" y1="513" x2="59.24" y2="516.2" stroke="#1c1c1c" stroke-width="1"/>
<text x="59.24" y="526.3" font-size="7.6" text-anchor="middle" fill="#231f20">20</text>
<line x1="81.88" y1="513" x2="81.88" y2="516.2" stroke="#1c1c1c" stroke-width="1"/>
<text x="81.88" y="526.3" font-size="7.6" text-anchor="middle" fill="#231f20">40</text>
<line x1="104.52" y1="513" x2="104.52" y2="516.2" stroke="#1c1c1c" stroke-width="1"/>
<text x="104.52" y="526.3" font-size="7.6" text-anchor="middle" fill="#231f20">60</text>
<line x1="127.16" y1="513" x2="127.16" y2="516.2" stroke="#1c1c1c" stroke-width="1"/>
<text x="127.16" y="526.3" font-size="7.6" text-anchor="middle" fill="#231f20">80</text>
<line x1="149.8" y1="513" x2="149.8" y2="516.2" stroke="#1c1c1c" stroke-width="1"/>
<text x="149.8" y="526.3" font-size="7.6" text-anchor="middle" fill="#231f20">100</text>
<text x="94.8" y="428.7" font-size="10" text-anchor="middle" fill="#231f20" textLength="27.5" lengthAdjust="spacingAndGlyphs">UPN51</text>
<text x="94.8" y="540.4" font-size="10.4" text-anchor="middle" fill="#231f20" textLength="32" lengthAdjust="spacingAndGlyphs">Months</text>
<text x="15.8" y="473.5" font-size="10.2" text-anchor="middle" fill="#231f20" textLength="66.4" lengthAdjust="spacingAndGlyphs" transform="rotate(-90 15.8 473.5)">% variant alleles</text>
<text x="124" y="504.5" font-size="7" fill="#231f20" textLength="43.4" lengthAdjust="spacingAndGlyphs">undetectable</text>
<line x1="33.1" y1="506.5" x2="36.6" y2="506.5" stroke="#383838" stroke-width="1.15" stroke-dasharray="2 1.29"/>
<line x1="117.9" y1="506.5" x2="149.8" y2="506.5" stroke="#383838" stroke-width="1.15" stroke-dasharray="2 1.29"/>
<polyline points="36.6,505.2 40,492.3 60.5,506.2" fill="none" stroke="#000" stroke-width="1.45" stroke-linejoin="miter"/>
<polyline points="36.6,506.2 117.9,506.2" fill="none" stroke="#000" stroke-width="1.45" stroke-linejoin="miter"/>
<polygon points="34.49,498.11 37.31,498.11 35.9,495.69" fill="#fff" stroke="#5c3360" stroke-width="1.05"/>
<polygon points="34.89,504.29 37.71,504.29 36.3,506.71" fill="#fff" stroke="#5c3360" stroke-width="1.05"/>
<polygon points="37.7,507.2 42.3,507.2 40,503.2" fill="#5c3360"/>
<polygon points="37.7,490.9 42.3,490.9 40,494.9" fill="#5c3360"/>
<polygon points="58.2,502.1 62.8,502.1 60.5,506.1" fill="#5c3360"/>
<polygon points="58.2,509.6 62.8,509.6 60.5,505.6" fill="#5c3360"/>
<polygon points="116.49,502.99 119.31,502.99 117.9,505.41" fill="#fff" stroke="#5c3360" stroke-width="1.05"/>
<polygon points="116.49,508.91 119.31,508.91 117.9,506.49" fill="#fff" stroke="#5c3360" stroke-width="1.05"/>
<polygon points="98.2,457.95 102.8,457.95 100.5,453.95" fill="#5c3360"/>
<text x="106.6" y="458.4" font-size="7.7" fill="#231f20" textLength="28.9" lengthAdjust="spacingAndGlyphs">DNMT3A</text>
<polygon points="98.2,464.45 102.8,464.45 100.5,468.45" fill="#5c3360"/>
<text x="106.6" y="468.9" font-size="7.7" fill="#231f20" textLength="18" lengthAdjust="spacingAndGlyphs">SMC3</text>
<line x1="215.7" y1="434.1" x2="215.7" y2="513.8" stroke="#1c1c1c" stroke-width="1.2"/>
<line x1="215.1" y1="513.2" x2="332.7" y2="513.2" stroke="#1c1c1c" stroke-width="1.3"/>
<line x1="212.3" y1="488.9" x2="215.7" y2="488.9" stroke="#1c1c1c" stroke-width="1"/>
<text x="209.7" y="491.6" font-size="7.6" text-anchor="end" fill="#231f20">5</text>
<line x1="212.3" y1="471.8" x2="215.7" y2="471.8" stroke="#1c1c1c" stroke-width="1"/>
<text x="209.7" y="474.5" font-size="7.6" text-anchor="end" fill="#231f20">10</text>
<line x1="212.3" y1="454.7" x2="215.7" y2="454.7" stroke="#1c1c1c" stroke-width="1"/>
<text x="209.7" y="457.4" font-size="7.6" text-anchor="end" fill="#231f20">15</text>
<line x1="212.3" y1="437.6" x2="215.7" y2="437.6" stroke="#1c1c1c" stroke-width="1"/>
<text x="209.7" y="440.3" font-size="7.6" text-anchor="end" fill="#231f20">20</text>
<line x1="215.7" y1="513.2" x2="215.7" y2="516.4" stroke="#1c1c1c" stroke-width="1"/>
<text x="215.7" y="526.5" font-size="7.6" text-anchor="middle" fill="#231f20">0</text>
<line x1="238.34" y1="513.2" x2="238.34" y2="516.4" stroke="#1c1c1c" stroke-width="1"/>
<text x="238.34" y="526.5" font-size="7.6" text-anchor="middle" fill="#231f20">20</text>
<line x1="260.98" y1="513.2" x2="260.98" y2="516.4" stroke="#1c1c1c" stroke-width="1"/>
<text x="260.98" y="526.5" font-size="7.6" text-anchor="middle" fill="#231f20">40</text>
<line x1="283.62" y1="513.2" x2="283.62" y2="516.4" stroke="#1c1c1c" stroke-width="1"/>
<text x="283.62" y="526.5" font-size="7.6" text-anchor="middle" fill="#231f20">60</text>
<line x1="306.26" y1="513.2" x2="306.26" y2="516.4" stroke="#1c1c1c" stroke-width="1"/>
<text x="306.26" y="526.5" font-size="7.6" text-anchor="middle" fill="#231f20">80</text>
<line x1="328.9" y1="513.2" x2="328.9" y2="516.4" stroke="#1c1c1c" stroke-width="1"/>
<text x="328.9" y="526.5" font-size="7.6" text-anchor="middle" fill="#231f20">100</text>
<text x="273.9" y="428.7" font-size="10" text-anchor="middle" fill="#231f20" textLength="28.5" lengthAdjust="spacingAndGlyphs">UPN52</text>
<text x="273.9" y="540.6" font-size="10.4" text-anchor="middle" fill="#231f20" textLength="32" lengthAdjust="spacingAndGlyphs">Months</text>
<text x="194.9" y="473.3" font-size="10.2" text-anchor="middle" fill="#231f20" textLength="66.4" lengthAdjust="spacingAndGlyphs" transform="rotate(-90 194.9 473.3)">% variant alleles</text>
<text x="296.8" y="504.3" font-size="7" fill="#231f20" textLength="43.4" lengthAdjust="spacingAndGlyphs">undetectable</text>
<line x1="212.2" y1="506.3" x2="328.9" y2="506.3" stroke="#383838" stroke-width="1.15" stroke-dasharray="2 1.29"/>
<polyline points="215.7,479.2 219.6,440.3 277.2,505.7 291.9,505.7" fill="none" stroke="#000" stroke-width="1.45" stroke-linejoin="miter"/>
<rect x="214.02" y="477.52" width="3.35" height="3.35" fill="#fff" stroke="#6aa046" stroke-width="1.05"/>
<rect x="217.4" y="438.1" width="4.4" height="4.4" fill="#6aa046"/>
<rect x="275" y="503.5" width="4.4" height="4.4" fill="#6aa046"/>
<rect x="290.22" y="504.02" width="3.35" height="3.35" fill="#fff" stroke="#6aa046" stroke-width="1.05"/>
<rect x="280.1" y="453.35" width="4.4" height="4.4" fill="#6aa046"/>
<text x="288.1" y="458" font-size="7.7" fill="#231f20" textLength="28.8" lengthAdjust="spacingAndGlyphs">DNMT3A</text>
<line x1="388.3" y1="434" x2="388.3" y2="513.6" stroke="#1c1c1c" stroke-width="1.2"/>
<line x1="387.7" y1="513" x2="505.3" y2="513" stroke="#1c1c1c" stroke-width="1.3"/>
<line x1="384.9" y1="488.8" x2="388.3" y2="488.8" stroke="#1c1c1c" stroke-width="1"/>
<text x="382.3" y="491.5" font-size="7.6" text-anchor="end" fill="#231f20">5</text>
<line x1="384.9" y1="471.7" x2="388.3" y2="471.7" stroke="#1c1c1c" stroke-width="1"/>
<text x="382.3" y="474.4" font-size="7.6" text-anchor="end" fill="#231f20">10</text>
<line x1="384.9" y1="454.6" x2="388.3" y2="454.6" stroke="#1c1c1c" stroke-width="1"/>
<text x="382.3" y="457.3" font-size="7.6" text-anchor="end" fill="#231f20">15</text>
<line x1="384.9" y1="437.5" x2="388.3" y2="437.5" stroke="#1c1c1c" stroke-width="1"/>
<text x="382.3" y="440.2" font-size="7.6" text-anchor="end" fill="#231f20">20</text>
<line x1="388.3" y1="513" x2="388.3" y2="516.2" stroke="#1c1c1c" stroke-width="1"/>
<text x="388.3" y="526.3" font-size="7.6" text-anchor="middle" fill="#231f20">0</text>
<line x1="410.94" y1="513" x2="410.94" y2="516.2" stroke="#1c1c1c" stroke-width="1"/>
<text x="410.94" y="526.3" font-size="7.6" text-anchor="middle" fill="#231f20">20</text>
<line x1="433.58" y1="513" x2="433.58" y2="516.2" stroke="#1c1c1c" stroke-width="1"/>
<text x="433.58" y="526.3" font-size="7.6" text-anchor="middle" fill="#231f20">40</text>
<line x1="456.22" y1="513" x2="456.22" y2="516.2" stroke="#1c1c1c" stroke-width="1"/>
<text x="456.22" y="526.3" font-size="7.6" text-anchor="middle" fill="#231f20">60</text>
<line x1="478.86" y1="513" x2="478.86" y2="516.2" stroke="#1c1c1c" stroke-width="1"/>
<text x="478.86" y="526.3" font-size="7.6" text-anchor="middle" fill="#231f20">80</text>
<line x1="501.5" y1="513" x2="501.5" y2="516.2" stroke="#1c1c1c" stroke-width="1"/>
<text x="501.5" y="526.3" font-size="7.6" text-anchor="middle" fill="#231f20">100</text>
<text x="446.5" y="428.7" font-size="10" text-anchor="middle" fill="#231f20" textLength="28.5" lengthAdjust="spacingAndGlyphs">UPN77</text>
<text x="446.5" y="540.4" font-size="10.4" text-anchor="middle" fill="#231f20" textLength="32" lengthAdjust="spacingAndGlyphs">Months</text>
<text x="367.5" y="473.2" font-size="10.2" text-anchor="middle" fill="#231f20" textLength="66.4" lengthAdjust="spacingAndGlyphs" transform="rotate(-90 367.5 473.2)">% variant alleles</text>
<text x="466.3" y="504.2" font-size="7" fill="#231f20" textLength="43.4" lengthAdjust="spacingAndGlyphs">undetectable</text>
<line x1="384.8" y1="506.2" x2="501.5" y2="506.2" stroke="#383838" stroke-width="1.15" stroke-dasharray="2 1.29"/>
<polyline points="388.3,505.9 442.5,505.9" fill="none" stroke="#000" stroke-width="1.45" stroke-linejoin="miter"/>
<circle cx="387.7" cy="505.9" r="1.62" fill="#fff" stroke="#68a0d0" stroke-width="1.05"/>
<circle cx="391.5" cy="505.9" r="2.15" fill="#68a0d0"/>
<circle cx="442.5" cy="505.9" r="1.62" fill="#fff" stroke="#68a0d0" stroke-width="1.05"/>
</g>
<rect x="0" y="0" width="520" height="1" fill="#0a0a0a"/>
<rect x="0" y="549" width="520" height="1" fill="#0a0a0a"/>
<rect x="0" y="0" width="1" height="550" fill="#4a4a4a"/>
<rect x="1" y="0" width="1" height="550" fill="#a0a0a0"/>
<rect x="518" y="0" width="1" height="550" fill="#a0a0a0"/>
<rect x="519" y="0" width="1" height="550" fill="#4a4a4a"/>
</svg>
</body></html>
